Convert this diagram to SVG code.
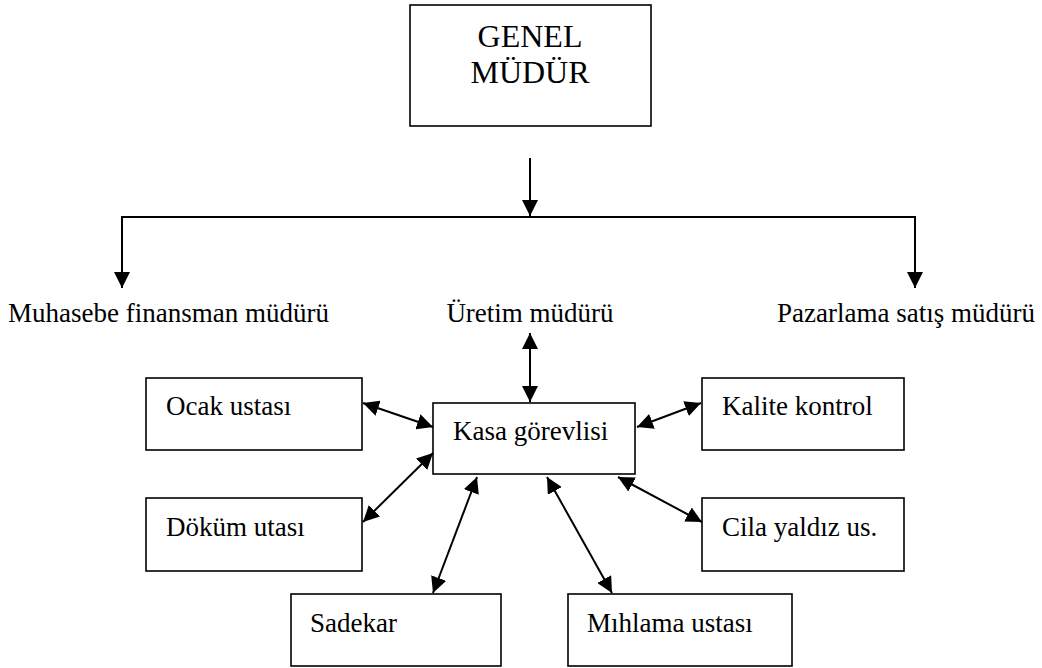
<svg xmlns="http://www.w3.org/2000/svg" width="1042" height="668" viewBox="0 0 1042 668">
<defs>
<marker id="ah" markerUnits="userSpaceOnUse" markerWidth="16" markerHeight="16" viewBox="0 0 16 16" refX="16" refY="8" orient="auto-start-reverse">
<path d="M0,0 L16,8 L0,16 z" fill="#000"/>
</marker>
<style>
.box{fill:#fff;stroke:#000;stroke-width:1.6}
.t{font-family:"Liberation Serif","Times New Roman",serif;font-size:27px;fill:#000}
.big{font-size:32px}
.c{fill:none;stroke:#000;stroke-width:2}
</style>
</defs>
<rect width="1042" height="668" fill="#fff"/>
<g id="genel">
<rect class="box" x="410" y="5" width="241" height="121"/>
<text class="t big" x="530" y="47" text-anchor="middle">GENEL</text>
<text class="t big" x="530" y="83" text-anchor="middle">MÜDÜR</text>
</g>
<g id="muhasebe"><text class="t" x="8" y="322">Muhasebe finansman müdürü</text></g>
<g id="uretim"><text class="t" x="530" y="322" text-anchor="middle">Üretim müdürü</text></g>
<g id="pazarlama"><text class="t" x="1035" y="322" text-anchor="end">Pazarlama satış müdürü</text></g>
<g id="kasa"><rect class="box" x="433" y="403" width="202" height="71"/><text class="t" x="453" y="440">Kasa görevlisi</text></g>
<g id="ocak"><rect class="box" x="146" y="378" width="216" height="72"/><text class="t" x="166" y="415">Ocak ustası</text></g>
<g id="dokum"><rect class="box" x="146" y="498" width="216" height="73"/><text class="t" x="166" y="536">Döküm utası</text></g>
<g id="sadekar"><rect class="box" x="291" y="594" width="210" height="72"/><text class="t" x="310" y="632">Sadekar</text></g>
<g id="mihlama"><rect class="box" x="568" y="594" width="224" height="72"/><text class="t" x="587" y="632">Mıhlama ustası</text></g>
<g id="kalite"><rect class="box" x="702" y="378" width="202" height="72"/><text class="t" x="722" y="415">Kalite kontrol</text></g>
<g id="cila"><rect class="box" x="702" y="498" width="202" height="73"/><text class="t" x="722" y="536">Cila yaldız us.</text></g>
<g id="connectors">
<line class="c" x1="530" y1="158" x2="530" y2="216" marker-end="url(#ah)"/>
<polyline class="c" points="122,288 122,217 915,217 915,288" marker-start="url(#ah)" marker-end="url(#ah)"/>
<line class="c" x1="530" y1="333" x2="530" y2="402" marker-start="url(#ah)" marker-end="url(#ah)"/>
<line class="c" x1="363" y1="403" x2="433" y2="427" marker-start="url(#ah)" marker-end="url(#ah)"/>
<line class="c" x1="433" y1="453" x2="363" y2="522" marker-start="url(#ah)" marker-end="url(#ah)"/>
<line class="c" x1="477" y1="477" x2="433" y2="593" marker-start="url(#ah)" marker-end="url(#ah)"/>
<line class="c" x1="547" y1="477" x2="612" y2="593" marker-start="url(#ah)" marker-end="url(#ah)"/>
<line class="c" x1="637" y1="427" x2="701" y2="403" marker-start="url(#ah)" marker-end="url(#ah)"/>
<line class="c" x1="618" y1="477" x2="702" y2="522" marker-start="url(#ah)" marker-end="url(#ah)"/>
</g>
</svg>
